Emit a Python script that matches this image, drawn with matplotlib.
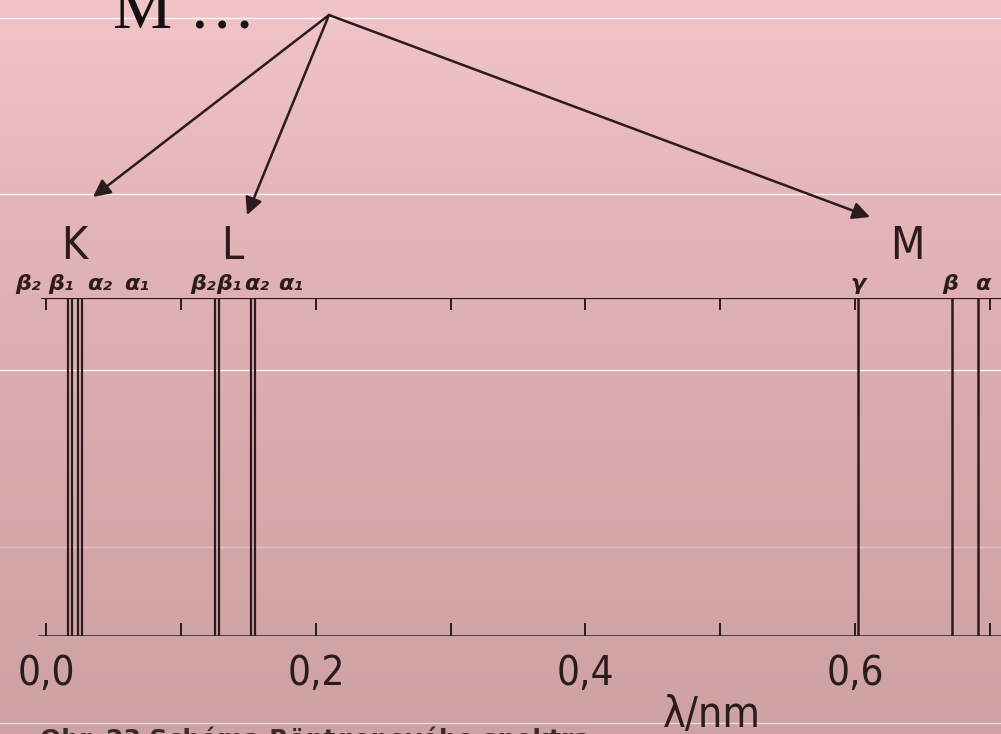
import numpy as np
import matplotlib
matplotlib.use("Agg")
import matplotlib.pyplot as plt
from matplotlib.colors import LinearSegmentedColormap

# spectral line positions (nm)
k_lines = [0.0158, 0.0186, 0.0235, 0.0265]
l_lines = [0.1252, 0.1281, 0.1520, 0.1550]
m_lines = [0.6022, 0.6720, 0.6915]

# greek labels and where they sit (nm)
k_names = ["β₂", "β₁", "α₂", "α₁"]
k_name_x = [-0.0137, 0.0110, 0.0395, 0.0670]
l_names = ["β₂", "β₁", "α₂", "α₁"]
l_name_x = [0.1162, 0.1352, 0.1560, 0.1810]
m_names = ["γ", "β", "α"]
m_name_x = [0.6022, 0.6705, 0.6950]

ticks = [0.0, 0.1, 0.2, 0.3, 0.4, 0.5, 0.6, 0.7]
tick_labels = ["0,0", "0,2", "0,4", "0,6"]
tick_label_x = [0.0, 0.2, 0.4, 0.6]

ink = "#2b1b1c"
W, H = 1001, 734
px0, ppn = 46.5, 1347.5      # pixel of 0 nm, pixels per nm

fig = plt.figure(figsize=(W / 100, H / 100), dpi=100)

# background gradient + overlay in pixel coordinates
bg = fig.add_axes([0, 0, 1, 1], zorder=0)
cmap = LinearSegmentedColormap.from_list(
    "pink", ["#f1c5c8", "#e6b7ba", "#dcadb0", "#d4a6a8", "#cea2a4"])
grad = np.linspace(0, 1, 256).reshape(-1, 1)
bg.imshow(grad, cmap=cmap, aspect="auto", extent=(0, W, H, 0))
bg.set_xlim(0, W)
bg.set_ylim(H, 0)
bg.axis("off")

for y, a in [(18, 0.9), (194, 0.9), (370, 0.9), (547, 0.3), (723, 0.6)]:
    bg.axhline(y, color="white", lw=1.0, alpha=a)

bg.text(113, 28, "M \u2026", fontsize=48, family="Liberation Serif",
        color="#151012", va="baseline", ha="left")

apex = (329, 15)
for tip in [(93, 197), (247, 215), (870, 217)]:
    bg.annotate("", xy=tip, xytext=apex,
                arrowprops=dict(arrowstyle="-|>", mutation_scale=26,
                                lw=1.8, color=ink, shrinkA=0, shrinkB=0))

bg.text(40, 747, "Obr. 23 Schéma Röntgenového spektra", fontsize=18,
        fontweight="bold", color="#3a2a2c", va="baseline", ha="left",
        clip_on=False)

# spectrum axes
ax = fig.add_axes([0, (H - 636) / H, 1, 338 / H], zorder=1)
ax.set_xlim(-px0 / ppn, (W - px0) / ppn)
ax.set_ylim(0, 1)
ax.axis("off")
ax.patch.set_alpha(0)

ax.hlines(0, -8.5 / ppn, 1.0, color=ink, lw=1.8)
ax.hlines(1, -5.5 / ppn, 1.0, color=ink, lw=1.6)
ax.vlines(ticks, 0, 0.038, color=ink, lw=1.4)
ax.vlines(ticks, 0.964, 1, color=ink, lw=1.4)

ax.vlines(k_lines + l_lines, 0, 1, color=ink, lw=1.6)
ax.vlines(m_lines, 0, 1, color=ink, lw=1.8)

for x, s in zip(tick_label_x, tick_labels):
    ax.text(x, -0.145, s, fontsize=29, family="DejaVu Sans",
            fontstretch="condensed", color=ink, ha="center", va="baseline")
ax.text(0.494, -0.269, "λ/nm", fontsize=31, family="DejaVu Sans",
        fontstretch="condensed", color=ink, ha="center", va="baseline")

for x, s in [(0.0204, "K"), (0.1377, "L"), (0.6386, "M")]:
    ax.text(x, 1.115, s, fontsize=32, family="DejaVu Sans",
            fontstretch="condensed", color=ink, ha="center", va="baseline")

for xs, names in [(k_name_x, k_names), (l_name_x, l_names), (m_name_x, m_names)]:
    for x, s in zip(xs, names):
        ax.text(x, 1.025, s, fontsize=16, family="DejaVu Sans", color=ink,
                ha="center", va="baseline", fontweight="bold",
                fontstyle="italic")

fig.savefig("out.png", dpi=100)
